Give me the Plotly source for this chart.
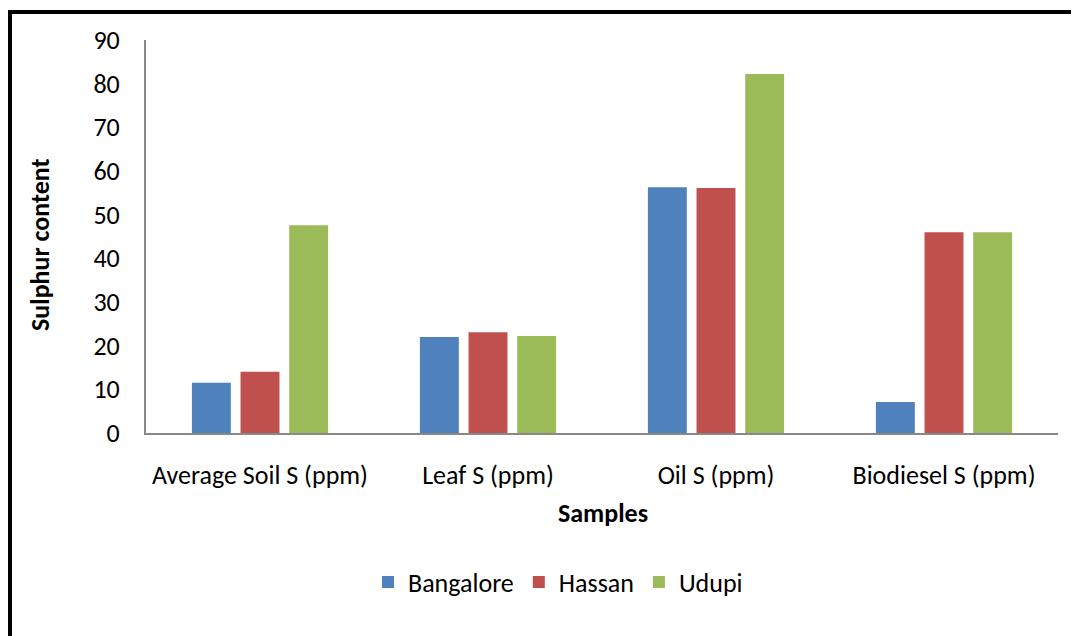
import plotly.graph_objects as go

categories = ["Average Soil S (ppm)", "Leaf S (ppm)", "Oil S (ppm)", "Biodiesel S (ppm)"]
bangalore = [11.5, 22.0, 56.3, 7.1]
hassan = [14.0, 23.1, 56.1, 46.0]
udupi = [47.6, 22.2, 82.2, 46.0]
series_names = ["Bangalore", "Hassan", "Udupi"]
colors = ["#4F81BD", "#C0504D", "#9BBB59"]
y_ticks = [0, 10, 20, 30, 40, 50, 60, 70, 80, 90]

FONT = "Carlito, 'Liberation Sans Narrow', 'Open Sans', Arial, sans-serif"
FS = 26

fig = go.Figure()
for name, vals, col in zip(series_names, [bangalore, hassan, udupi], colors):
    fig.add_trace(go.Bar(name=name, x=categories, y=vals, marker=dict(color=col, line=dict(width=0))))

# plot area on screen: x 146..1058, y 40..433 (page has an 8px body offset)
fig.update_layout(
    width=1079, height=636,
    margin=dict(l=138, r=29, t=32, b=211),
    paper_bgcolor="white", plot_bgcolor="white",
    barmode="group", bargap=0.36, bargroupgap=0.2,
    font=dict(family=FONT, size=FS, color="black"),
    showlegend=True,
    legend=dict(orientation="h", x=(558 - 146) / 912, xanchor="center", y=(433 - 582) / 393, yanchor="middle",
                font=dict(size=FS), traceorder="normal", itemwidth=30),
    xaxis=dict(showline=True, linecolor="#888888", linewidth=2, ticks="", showgrid=False,
               tickfont=dict(size=FS), ticklabelstandoff=18),
    yaxis=dict(range=[0, 90], tickvals=y_ticks, showline=True, linecolor="#888888", linewidth=2,
               ticks="", showgrid=False, zeroline=False, tickfont=dict(size=FS), ticklabelstandoff=19),
    annotations=[
        dict(text="<b>Samples</b>", xref="paper", yref="paper", x=(603 - 146) / 912, y=(433 - 513) / 393,
             xanchor="center", yanchor="middle", showarrow=False, font=dict(size=FS)),
        dict(text="<b>Sulphur content</b>", xref="paper", yref="paper", x=(40 - 146) / 912, y=(433 - 245) / 393,
             xanchor="center", yanchor="middle", textangle=-90, showarrow=False, font=dict(size=FS)),
    ],
    shapes=[
        dict(type="rect", xref="paper", yref="paper", x0=(10 - 146) / 912, x1=1.2,
             y0=-1.0, y1=1 + (40 - 12) / 393, line=dict(color="black", width=4), layer="below"),
    ],
)

fig.write_html("out.html")
